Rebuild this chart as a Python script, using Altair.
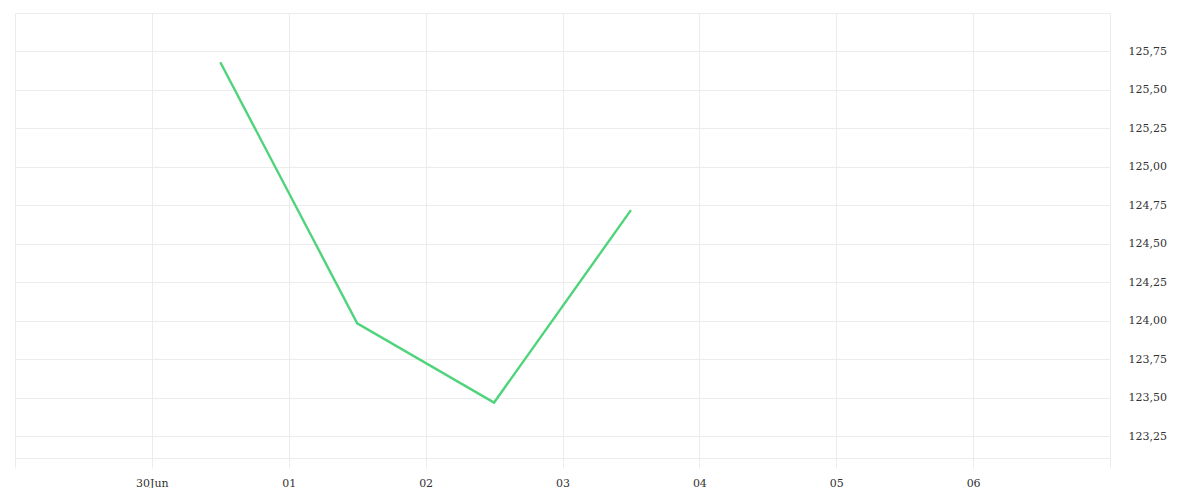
import altair as alt
import pandas as pd

dates = ["2021-06-30T12:00:00", "2021-07-01T12:00:00", "2021-07-02T12:00:00", "2021-07-03T12:00:00"]
prices = [125.68, 123.985, 123.47, 124.72]
x_ticks = ["2021-06-29T00:00:00", "2021-06-30T00:00:00", "2021-07-01T00:00:00", "2021-07-02T00:00:00",
           "2021-07-03T00:00:00", "2021-07-04T00:00:00", "2021-07-05T00:00:00", "2021-07-06T00:00:00",
           "2021-07-07T00:00:00"]
y_ticks = [123.25, 123.5, 123.75, 124.0, 124.25, 124.5, 124.75, 125.0, 125.25, 125.5, 125.75]

df = pd.DataFrame({"date": dates, "price": prices})

FONT = "DejaVu Serif"
GRID = "#ececec"

x_enc = alt.X(
    "date:T",
    scale=alt.Scale(domain=[x_ticks[0], x_ticks[-1]]),
    axis=alt.Axis(
        values=x_ticks,
        title=None,
        grid=True,
        gridColor=GRID,
        domainColor=GRID,
        tickColor=GRID,
        tickSize=10,
        labelPadding=9,
        labelFont=FONT,
        labelFontSize=11,
        labelColor="#333333",
        labelExpr="(date(datum.value)==29 || date(datum.value)==7) ? '' : timeFormat(datum.value, '%d') + (date(datum.value)==30 ? 'Jun' : '')",
    ),
)
y_enc = alt.Y(
    "price:Q",
    scale=alt.Scale(domain=[123.11, 126.0], nice=False, zero=False),
    axis=alt.Axis(
        orient="right",
        values=y_ticks,
        title=None,
        grid=True,
        gridColor=GRID,
        domain=False,
        ticks=False,
        labelPadding=18,
        labelFont=FONT,
        labelFontSize=11,
        labelColor="#333333",
        labelExpr="replace(format(datum.value, '.2f'), '.', ',')",
    ),
)

chart = (
    alt.Chart(df)
    .mark_line(color="#4fd47b", strokeWidth=2.4)
    .encode(x=x_enc, y=y_enc)
    .properties(
        width=1095,
        height=445,
        autosize=alt.AutoSizeParams(type="none"),
        padding={"left": 7, "top": 5, "right": 80, "bottom": 30},
    )
    .configure_view(stroke=GRID)
)

chart.save("out.html", embed_options={"renderer": "svg", "actions": False})
